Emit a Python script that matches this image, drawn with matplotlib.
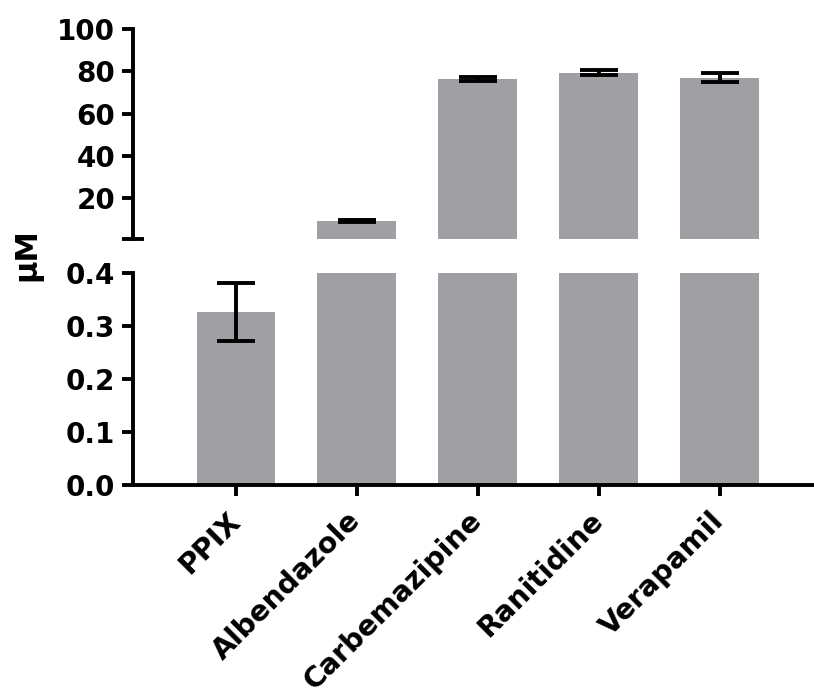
import matplotlib
matplotlib.use("Agg")
import matplotlib.pyplot as plt
import numpy as np

categories = ["PPIX", "Albendazole", "Carbemazipine", "Ranitidine", "Verapamil"]
values = [0.327, 9.1, 76.4, 79.2, 77.0]
errors = [0.055, 0.4, 1.0, 1.2, 2.2]

upper_ticks = [20, 40, 60, 80, 100]
lower_ticks = [0.0, 0.1, 0.2, 0.3, 0.4]

plt.rcParams['font.family'] = ['DejaVu Sans']
plt.rcParams['font.weight'] = 'bold'

bar_color = '#a09fa4'
lw = 2.8
fs = 20
fsx = 20.5

fig = plt.figure(figsize=(8.14, 6.96), dpi=100)
left = 0.1634
ax_up = fig.add_axes([left, 1 - 239/696, 1 - left, (239 - 29)/696])
ax_lo = fig.add_axes([left, 1 - 485/696, 1 - left, (485 - 273)/696])

up_low = 0.6
x = np.arange(len(categories))
vals = np.array(values)
errs = np.array(errors)

for ax in (ax_up, ax_lo):
    ax.bar(x, vals, width=0.65, color=bar_color, zorder=2)
    ax.set_xlim(-0.85, 4.78)
    ax.spines['top'].set_visible(False)
    ax.spines['right'].set_visible(False)
    ax.spines['left'].set_linewidth(lw)
    ax.spines['bottom'].set_linewidth(lw)
    ax.tick_params(axis='both', which='major', width=lw, length=7.7, labelsize=fs, pad=5)

mask_up = vals > up_low
ax_up.errorbar(x[mask_up], vals[mask_up], yerr=errs[mask_up], fmt='none', ecolor='black',
               elinewidth=lw, capsize=14, capthick=lw, zorder=3)
mask_lo = vals < 0.4
ax_lo.errorbar(x[mask_lo], vals[mask_lo], yerr=errs[mask_lo], fmt='none', ecolor='black',
               elinewidth=lw, capsize=14, capthick=lw, zorder=3)

ax_up.set_ylim(up_low, 100)
ax_up.set_yticks(upper_ticks)
ax_up.set_yticklabels([str(t) for t in upper_ticks])
ax_up.set_yticks([up_low], minor=True)
ax_up.tick_params(axis='y', which='minor', direction='inout', length=16, width=lw)
ax_up.spines['bottom'].set_visible(False)
ax_up.tick_params(axis='x', which='both', bottom=False, labelbottom=False)

ax_lo.set_ylim(0, 0.4)
ax_lo.set_yticks(lower_ticks)
ax_lo.set_yticklabels([f"{t:.1f}" for t in lower_ticks])
ax_lo.set_yticks([0.4], minor=True)
ax_lo.tick_params(axis='y', which='minor', direction='inout', length=16, width=lw)
ax_lo.set_xticks(x)
ax_lo.set_xticklabels(categories, rotation=45, ha='right', va='center',
                      rotation_mode='anchor', fontsize=fsx, fontweight='bold')
ax_lo.tick_params(axis='x', pad=15)

fig.text(28/814, 1 - 255/696, 'μM', rotation=90, ha='center', va='center',
         fontsize=22, fontweight='bold')

fig.savefig('out.png', dpi=100)
